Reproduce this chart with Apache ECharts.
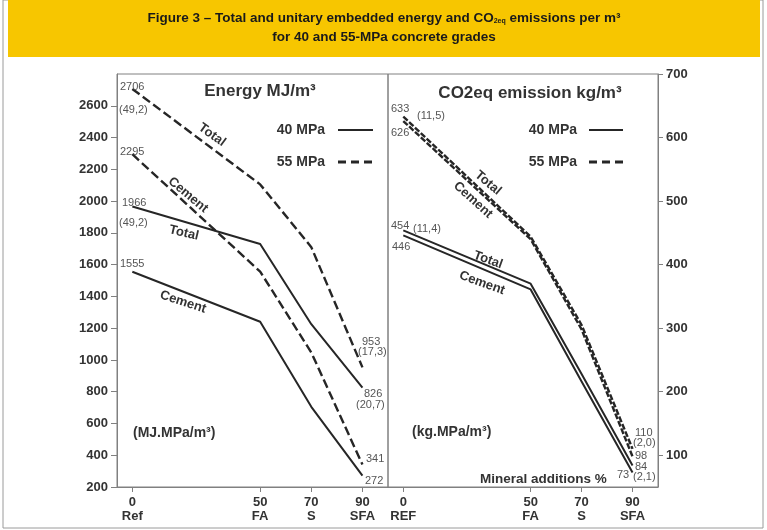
<!DOCTYPE html>
<html>
<head>
<meta charset="utf-8">
<script src="https://cdn.jsdelivr.net/npm/echarts@6/dist/echarts.min.js"></script>
<style>
html,body{margin:0;padding:0;background:#fff;}
#chart{width:767px;height:530px;}
</style>
</head>
<body>
<div id="chart"></div>
<script>
// --- data ---
var mix = [0, 50, 70, 90];
var mixNamesLeft = ['Ref', 'FA', 'S', 'SFA'];
var mixNamesRight = ['REF', 'FA', 'S', 'SFA'];

var energyTotal40 = [1966, 1730, 1225, 826];
var energyCement40 = [1555, 1240, 705, 272];
var energyTotal55 = [2706, 2105, 1710, 953];
var energyCement55 = [2295, 1556, 1047, 341];

var co2Total40 = [454, 370, 228, 84];
var co2Cement40 = [446, 361, 216, 73];
var co2Total55 = [633, 444, 305, 110];
var co2Cement55 = [626, 440, 298, 98];

var energyTicks = [200, 400, 600, 800, 1000, 1200, 1400, 1600, 1800, 2000, 2200, 2400, 2600];
var co2Ticks = [100, 200, 300, 400, 500, 600, 700];

var dom = document.getElementById('chart');
var myChart = echarts.init(dom, null, {renderer: 'canvas'});

var ink = '#262626';
var axisGray = '#808080';
var numGray = '#555';
var FONT = '"Liberation Sans", Arial, sans-serif';

function pairs(ys) {
    var out = [];
    for (var i = 0; i < mix.length; i++) out.push([mix[i], ys[i]]);
    return out;
}

function lineSeries(name, ys, dashed, idx, dash) {
    return {
        name: name,
        type: 'line',
        xAxisIndex: idx,
        yAxisIndex: idx,
        data: pairs(ys),
        symbol: 'none',
        silent: true,
        lineStyle: {color: ink, width: dashed ? 2.4 : 2, type: dashed ? dash : 'solid'}
    };
}

function xAxisFor(idx, names) {
    return {
        type: 'value',
        gridIndex: idx,
        min: -6,
        max: 100,
        axisLine: {show: true, onZero: false, lineStyle: {color: axisGray, width: 1}},
        axisTick: {show: true, customValues: mix, length: 5, lineStyle: {color: axisGray}},
        axisLabel: {
            customValues: mix,
            margin: 8,
            color: '#333',
            fontWeight: 'bold',
            fontSize: 13,
            fontFamily: FONT,
            lineHeight: 14,
            formatter: function (v) {
                var i = mix.indexOf(v);
                return i < 0 ? '' : mix[i] + '\n' + names[i];
            }
        },
        splitLine: {show: false}
    };
}

// text helper for the annotations
function txt(x, y, s, o) {
    o = o || {};
    return {
        type: 'text',
        x: x,
        y: y,
        rotation: o.rot ? -o.rot * Math.PI / 180 : 0,
        z: 10,
        style: {
            text: s,
            fill: o.fill || numGray,
            font: (o.bold ? 'bold ' : '') + (o.size || 11) + 'px ' + FONT,
            align: o.align || 'left',
            verticalAlign: 'middle',
            rich: o.rich
        }
    };
}

function legendLine(x1, x2, y, dashed) {
    return {
        type: 'line',
        z: 10,
        shape: {x1: x1, y1: y, x2: x2, y2: y},
        style: {stroke: ink, lineWidth: dashed ? 3 : 2, lineDash: dashed ? [8, 5] : null}
    };
}

var graphics = [
    {type: 'rect', z: -1, shape: {x: 3, y: 0, width: 760, height: 528}, style: {fill: 'none', stroke: '#9a9a9a', lineWidth: 1}},
    {type: 'rect', z: 0, shape: {x: 8, y: 0, width: 752, height: 57}, style: {fill: '#F7C600'}},
    txt(384, 18, 'Figure 3 – Total and unitary embedded energy and CO{sub|2eq} emissions per m³',
        {align: 'center', bold: true, size: 13.5, fill: '#1a1a1a',
         rich: {sub: {fontSize: 7, fontWeight: 'bold', verticalAlign: 'bottom', padding: [6, 0, 0, 0], fill: '#1a1a1a', fontFamily: FONT}}}),
    txt(384, 37, 'for 40 and 55-MPa concrete grades', {align: 'center', bold: true, size: 13.5, fill: '#1a1a1a'}),

    // panel titles
    txt(260, 91, 'Energy MJ/m³', {align: 'center', bold: true, size: 17, fill: '#333'}),
    txt(530, 93, 'CO2eq emission kg/m³', {align: 'center', bold: true, size: 17, fill: '#333'}),

    // legends
    txt(325, 130, '40 MPa', {align: 'right', bold: true, size: 14, fill: '#333'}),
    txt(325, 162, '55 MPa', {align: 'right', bold: true, size: 14, fill: '#333'}),
    legendLine(338, 373, 130, false),
    legendLine(338, 373, 162, true),
    txt(577, 130, '40 MPa', {align: 'right', bold: true, size: 14, fill: '#333'}),
    txt(577, 162, '55 MPa', {align: 'right', bold: true, size: 14, fill: '#333'}),
    legendLine(589, 623, 130, false),
    legendLine(589, 623, 162, true),

    // units / axis notes
    txt(133, 433, '(MJ.MPa/m³)', {bold: true, size: 14, fill: '#333'}),
    txt(412, 432, '(kg.MPa/m³)', {bold: true, size: 14, fill: '#333'}),
    txt(480, 479, 'Mineral additions %', {bold: true, size: 13.5, fill: '#333'}),

    // line names
    txt(212, 135, 'Total', {align: 'center', bold: true, size: 13, fill: '#333', rot: 36}),
    txt(188, 195, 'Cement', {align: 'center', bold: true, size: 13, fill: '#333', rot: 40}),
    txt(184, 233, 'Total', {align: 'center', bold: true, size: 13, fill: '#333', rot: 13}),
    txt(183, 302, 'Cement', {align: 'center', bold: true, size: 13, fill: '#333', rot: 18}),
    txt(488, 183, 'Total', {align: 'center', bold: true, size: 13, fill: '#333', rot: 40}),
    txt(473, 200, 'Cement', {align: 'center', bold: true, size: 13, fill: '#333', rot: 42}),
    txt(488, 260, 'Total', {align: 'center', bold: true, size: 13, fill: '#333', rot: 20}),
    txt(482, 283, 'Cement', {align: 'center', bold: true, size: 13, fill: '#333', rot: 20}),

    // energy values
    txt(120, 87, '2706'),
    txt(119, 110, '(49,2)'),
    txt(120, 152, '2295'),
    txt(122, 203, '1966'),
    txt(119, 223, '(49,2)'),
    txt(120, 264, '1555'),
    txt(362, 342, '953'),
    txt(358, 352, '(17,3)'),
    txt(364, 394, '826'),
    txt(356, 405, '(20,7)'),
    txt(366, 459, '341'),
    txt(365, 481, '272'),

    // co2 values
    txt(391, 109, '633'),
    txt(417, 116, '(11,5)'),
    txt(391, 133, '626'),
    txt(391, 226, '454'),
    txt(413, 229, '(11,4)'),
    txt(392, 247, '446'),
    txt(635, 433, '110'),
    txt(633, 443, '(2,0)'),
    txt(635, 456, '98'),
    txt(635, 467, '84'),
    txt(617, 475, '73'),
    txt(633, 477, '(2,1)')
];

var plain = function (v) { return String(v); };

var option = {
    backgroundColor: '#fff',
    animation: false,
    grid: [
        {left: 117, right: 379, top: 74, bottom: 43, show: true, borderColor: axisGray, borderWidth: 1, backgroundColor: 'transparent'},
        {left: 388, right: 109, top: 74, bottom: 43, show: true, borderColor: axisGray, borderWidth: 1, backgroundColor: 'transparent'}
    ],
    xAxis: [xAxisFor(0, mixNamesLeft), xAxisFor(1, mixNamesRight)],
    yAxis: [
        {
            type: 'value',
            gridIndex: 0,
            position: 'left',
            min: 200,
            max: 2800,
            interval: 200,
            axisLine: {show: true, onZero: false, lineStyle: {color: axisGray}},
            axisTick: {show: true, customValues: energyTicks, length: 6, lineStyle: {color: axisGray}},
            axisLabel: {customValues: energyTicks, margin: 9, color: '#333', fontWeight: 'bold', fontSize: 13, fontFamily: FONT, formatter: plain},
            splitLine: {show: false}
        },
        {
            type: 'value',
            gridIndex: 1,
            position: 'right',
            min: 50,
            max: 700,
            axisLine: {show: true, onZero: false, lineStyle: {color: axisGray}},
            axisTick: {show: true, customValues: co2Ticks, length: 5, lineStyle: {color: axisGray}},
            axisLabel: {customValues: co2Ticks, margin: 8, color: '#333', fontWeight: 'bold', fontSize: 13, fontFamily: FONT, formatter: plain},
            splitLine: {show: false}
        }
    ],
    series: [
        lineSeries('Energy total 55', energyTotal55, true, 0, [9, 4]),
        lineSeries('Energy cement 55', energyCement55, true, 0, [9, 4]),
        lineSeries('Energy total 40', energyTotal40, false, 0),
        lineSeries('Energy cement 40', energyCement40, false, 0),
        lineSeries('CO2 total 55', co2Total55, true, 1, [6, 2]),
        lineSeries('CO2 cement 55', co2Cement55, true, 1, [6, 2]),
        lineSeries('CO2 total 40', co2Total40, false, 1),
        lineSeries('CO2 cement 40', co2Cement40, false, 1)
    ],
    graphic: graphics
};

if (option && typeof option === 'object') {
    myChart.setOption(option, true);
}
</script>
</body>
</html>
